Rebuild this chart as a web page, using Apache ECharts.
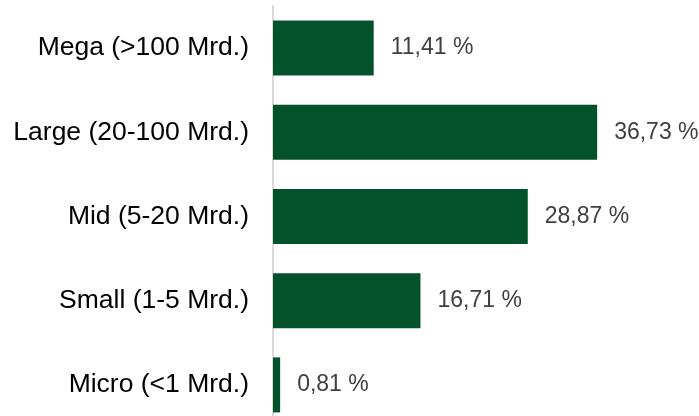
<!DOCTYPE html>
<html>
<head>
<meta charset="utf-8">
<script src="https://cdn.jsdelivr.net/npm/echarts@6/dist/echarts.min.js"></script>
<style>
  html, body { margin: 0; padding: 0; background: #fff; }
  #chart { width: 699px; height: 416px; }
</style>
</head>
<body>
<div id="chart"></div>
<script>
// market-cap buckets, top to bottom
var categories = ['Mega (>100 Mrd.)', 'Large (20-100 Mrd.)', 'Mid (5-20 Mrd.)', 'Small (1-5 Mrd.)', 'Micro (<1 Mrd.)'];
var shares = [11.41, 36.73, 28.87, 16.71, 0.81];

var chart = echarts.init(document.getElementById('chart'), null, { renderer: 'canvas' });
chart.setOption({
  animation: false,
  grid: { left: 273, top: 6, width: 353, height: 421, containLabel: false, outerBoundsMode: 'none' },
  xAxis: { type: 'value', min: 0, max: 40, show: false },
  yAxis: {
    type: 'category', data: categories, inverse: true,
    axisLine: { show: true, lineStyle: { color: '#d9d9d9', width: 2 } },
    axisTick: { show: false },
    axisLabel: { color: '#000', fontSize: 26.5, fontFamily: 'Liberation Sans, Arial, sans-serif', margin: 24 }
  },
  series: [{
    type: 'bar', data: shares, barWidth: 55,
    itemStyle: { color: '#03522b' },
    label: {
      show: true, position: 'right', distance: 17,
      color: '#404040', fontSize: 23, fontFamily: 'Liberation Sans, Arial, sans-serif',
      formatter: function (p) { return p.value.toFixed(2).replace('.', ',') + ' %'; }
    }
  }]
});
</script>
</body>
</html>
